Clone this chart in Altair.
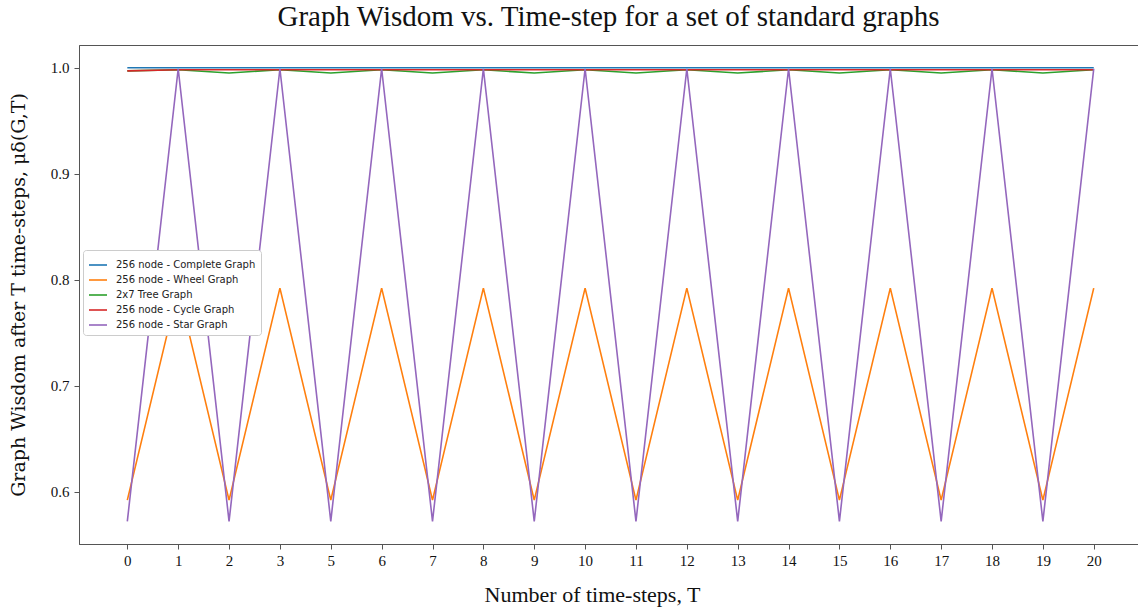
import altair as alt
import pandas as pd

t_labels = ["0", "1", "2", "3", "5", "6", "7", "8", "9", "10",
            "11", "12", "13", "14", "15", "16", "17", "18", "19", "20"]

series_names = ["256 node - Complete Graph", "256 node - Wheel Graph", "2x7 Tree Graph",
                "256 node - Cycle Graph", "256 node - Star Graph"]
series_colors = ["#1f77b4", "#ff7f0e", "#2ca02c", "#d62728", "#9467bd"]

complete = [1.000, 1.000, 1.000, 1.000, 1.000, 1.000, 1.000, 1.000, 1.000, 1.000,
            1.000, 1.000, 1.000, 1.000, 1.000, 1.000, 1.000, 1.000, 1.000, 1.000]
wheel = [0.592, 0.792, 0.592, 0.792, 0.592, 0.792, 0.592, 0.792, 0.592, 0.792,
         0.592, 0.792, 0.592, 0.792, 0.592, 0.792, 0.592, 0.792, 0.592, 0.792]
tree = [0.997, 0.998, 0.995, 0.998, 0.995, 0.998, 0.995, 0.998, 0.995, 0.998,
        0.995, 0.998, 0.995, 0.998, 0.995, 0.998, 0.995, 0.998, 0.995, 0.998]
cycle = [0.997, 0.998, 0.998, 0.998, 0.998, 0.998, 0.998, 0.998, 0.998, 0.998,
         0.998, 0.998, 0.998, 0.998, 0.998, 0.998, 0.998, 0.998, 0.998, 0.998]
star = [0.572, 0.999, 0.572, 0.999, 0.572, 0.999, 0.572, 0.999, 0.572, 0.999,
        0.572, 0.999, 0.572, 0.999, 0.572, 0.999, 0.572, 0.999, 0.572, 0.999]

rows = []
for name, vals in zip(series_names, [complete, wheel, tree, cycle, star]):
    for i, v in enumerate(vals):
        rows.append({"idx": i, "label": t_labels[i], "series": name, "value": v})
df = pd.DataFrame(rows)

label_expr = "[" + ",".join("'" + s + "'" for s in t_labels) + "][datum.value]"

serif = "Liberation Serif"

x_enc = alt.X("idx:Q",
              scale=alt.Scale(domain=[-0.95, 19.87], nice=False, zero=False),
              axis=alt.Axis(values=list(range(len(t_labels))), labelExpr=label_expr,
                            title="Number of time-steps, T", grid=False,
                            labelFont=serif, labelFontSize=15, labelColor="#111",
                            titleFont=serif, titleFontSize=22, titleFontWeight="normal",
                            titleColor="#111", titlePadding=16, titleX=513,
                            tickSize=5, labelPadding=4, tickColor="#555",
                            domainColor="#555", labelFlush=False))
y_enc = alt.Y("value:Q",
              scale=alt.Scale(domain=[0.5506, 1.0214], nice=False, zero=False),
              axis=alt.Axis(values=[0.6, 0.7, 0.8, 0.9, 1.0], format=".1f",
                            title="Graph Wisdom after T time-steps, μδ(G,T)", grid=False,
                            labelFont=serif, labelFontSize=15, labelColor="#111",
                            titleFont="DejaVu Serif", titleFontSize=19,
                            titleFontWeight="normal",
                            titleColor="#111", titlePadding=22,
                            tickSize=5, labelPadding=5, tickColor="#555",
                            domainColor="#555", labelFlush=False))
c_enc = alt.Color("series:N",
                  scale=alt.Scale(domain=series_names, range=series_colors),
                  legend=alt.Legend(title=None, orient="none", legendX=4, legendY=205,
                                    direction="vertical",
                                    symbolType="stroke", symbolSize=324,
                                    symbolStrokeWidth=1.6,
                                    labelFont="DejaVu Sans", labelFontSize=10,
                                    labelColor="#222", labelOffset=8,
                                    rowPadding=-5, padding=5,
                                    fillColor="white", strokeColor="#cccccc",
                                    cornerRadius=3))

base = alt.Chart(df)
layers = [
    base.mark_line(strokeWidth=1.6)
    .transform_filter(alt.datum.series == name)
    .encode(x=x_enc, y=y_enc, color=c_enc)
    for name in series_names
]

chart = alt.layer(*layers).properties(
    width=1059, height=499,
    autosize=alt.AutoSizeParams(type="none"),
    padding={"left": 79, "top": 45, "right": 0, "bottom": 65},
    title=alt.TitleParams("Graph Wisdom vs. Time-step for a set of standard graphs",
                          font=serif, fontSize=29, fontWeight="normal", color="#111",
                          anchor="middle", offset=13),
).configure_view(stroke="#555")

chart.save("out.html", embed_options={"renderer": "svg", "actions": False})
